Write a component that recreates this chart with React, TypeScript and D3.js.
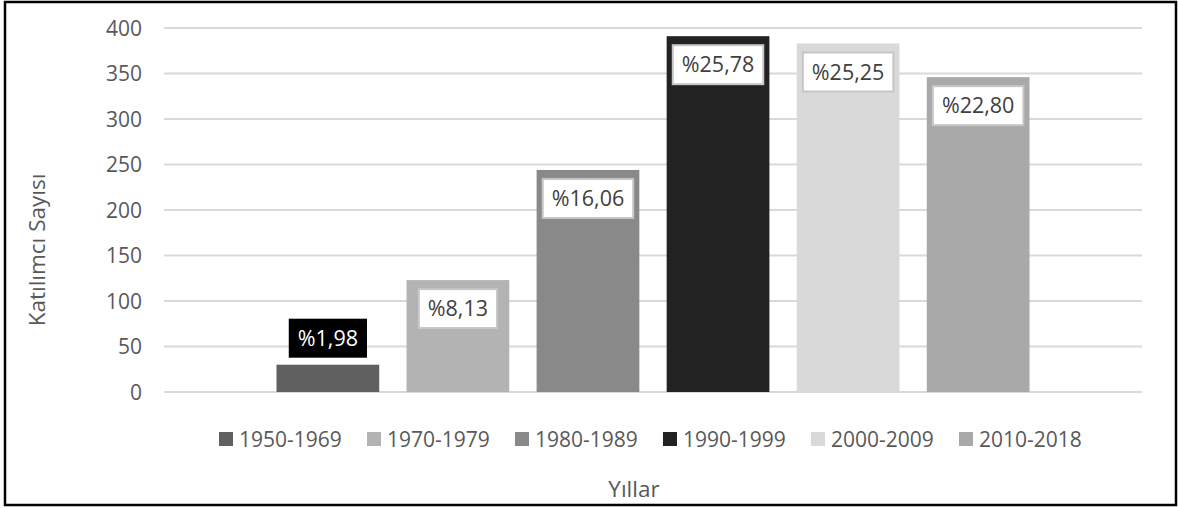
import React, { useEffect, useRef } from "react";
import * as d3 from "d3";

const categories = ["1950-1969", "1970-1979", "1980-1989", "1990-1999", "2000-2009", "2010-2018"];
const counts = [30, 123, 244, 391, 383, 346];
const percentLabels = ["%1,98", "%8,13", "%16,06", "%25,78", "%25,25", "%22,80"];
const colors = ["#606060", "#b3b3b3", "#898989", "#222222", "#d9d9d9", "#a9a9a9"];
const yTicks = [0, 50, 100, 150, 200, 250, 300, 350, 400];

const W = 1178;
const H = 508;
const FONT = "'Open Sans', 'Noto Sans', sans-serif";
const TXT = "#595959";

export default function App() {
  const ref = useRef<SVGSVGElement>(null);

  useEffect(() => {
    const svg = d3.select(ref.current);
    svg.selectAll("*").remove();

    const plotL = 164, plotR = 1142, plotT = 28, plotB = 392;
    const y = d3.scaleLinear().domain([0, 400]).range([plotB, plotT]);
    const x = d3.scaleBand<string>().domain(categories).range([plotL, plotR]).paddingInner(0.21).paddingOuter(0.865);

    svg.append("rect").attr("width", W).attr("height", H).attr("fill", "#fff");
    svg.append("rect").attr("x", 5).attr("y", 2).attr("width", 1171).attr("height", 503)
      .attr("fill", "none").attr("stroke", "#000").attr("stroke-width", 2.5);

    // gridlines
    svg.append("g").selectAll("line").data(yTicks).join("line")
      .attr("x1", plotL).attr("x2", plotR)
      .attr("y1", d => y(d)).attr("y2", d => y(d))
      .attr("stroke", "#d9d9d9").attr("stroke-width", 2);

    // tick labels
    svg.append("g").selectAll("text").data(yTicks).join("text")
      .attr("x", 142).attr("y", d => y(d)).attr("dy", "0.36em")
      .attr("text-anchor", "end").attr("font-family", FONT).attr("font-size", 21).attr("fill", TXT)
      .text(d => String(d));

    // bars
    const data = categories.map((c, i) => ({ c, v: counts[i], label: percentLabels[i], color: colors[i], i }));
    svg.append("g").selectAll("rect").data(data).join("rect")
      .attr("x", d => x(d.c)!).attr("width", x.bandwidth())
      .attr("y", d => y(d.v)).attr("height", d => y(0) - y(d.v))
      .attr("fill", d => d.color);

    // labels
    const boxH = 39;
    const lg = svg.append("g");
    data.forEach(d => {
      const cx = x(d.c)! + x.bandwidth() / 2;
      const outside = d.i === 0;
      const top = outside ? y(d.v) - 7 - boxH : y(d.v) + 9;
      const g = lg.append("g");
      const rect = g.append("rect");
      const t = g.append("text")
        .attr("x", cx).attr("y", top + boxH / 2).attr("dy", "0.36em")
        .attr("text-anchor", "middle").attr("font-family", FONT).attr("font-size", 21.5)
        .attr("fill", outside ? "#fff" : "#404040").text(d.label);
      const tw = (t.node() as SVGTextElement).getComputedTextLength();
      const bw = tw + 18;
      rect.attr("x", cx - bw / 2).attr("y", top).attr("width", bw).attr("height", boxH)
        .attr("fill", outside ? "#000" : "#fff")
        .attr("stroke", outside ? "none" : "#c6c6c6").attr("stroke-width", 2);
    });

    // legend
    const leg = svg.append("g");
    data.forEach(d => {
      const lx = 219 + d.i * 148;
      leg.append("rect").attr("x", lx).attr("y", 432).attr("width", 14).attr("height", 14).attr("fill", d.color);
      leg.append("text").attr("x", lx + 20).attr("y", 439).attr("dy", "0.36em")
        .attr("font-family", FONT).attr("font-size", 21).attr("fill", TXT).text(d.c);
    });

    // axis titles
    svg.append("text").attr("transform", "translate(37,250) rotate(-90)")
      .attr("text-anchor", "middle").attr("dy", "0.36em")
      .attr("font-family", FONT).attr("font-size", 22.5).attr("fill", TXT).text("Katılımcı Sayısı");
    svg.append("text").attr("x", 634).attr("y", 489).attr("dy", "0.36em")
      .attr("text-anchor", "middle").attr("font-family", FONT).attr("font-size", 22.5).attr("fill", TXT).text("Yıllar");
  }, []);

  return (
    <svg ref={ref} width={W} height={H} style={{ position: "absolute", left: 0, top: 0, display: "block" }} />
  );
}
